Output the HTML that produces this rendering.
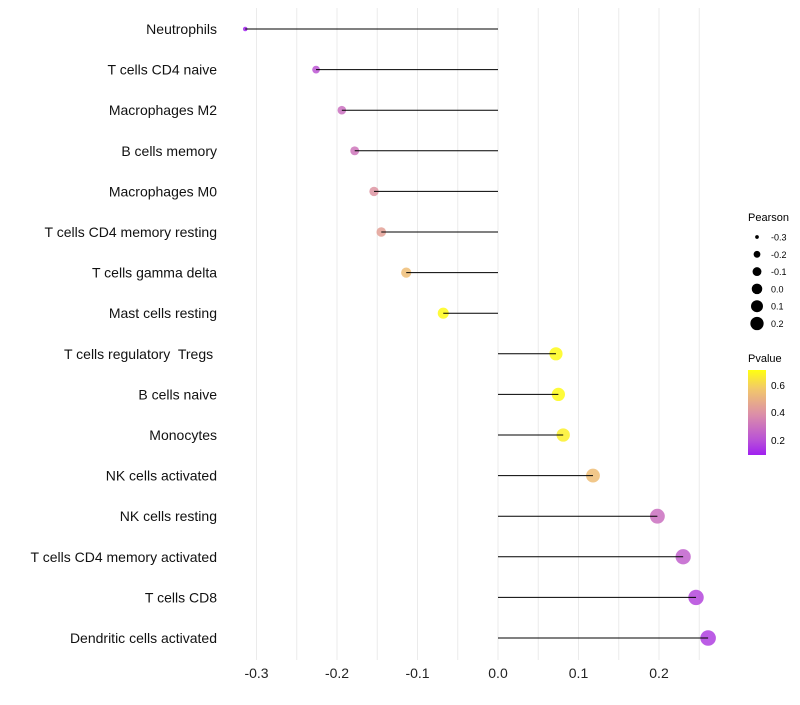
<!DOCTYPE html>
<html><head><meta charset="utf-8"><style>
body{margin:0;background:#fff;font-family:"Liberation Sans",sans-serif}
</style></head><body>
<svg id="chart" width="800" height="700" xmlns="http://www.w3.org/2000/svg">
<defs><linearGradient id="pg" x1="0" y1="1" x2="0" y2="0">
<stop offset="0" stop-color="#A020F0"/><stop offset="0.17" stop-color="#B850D8"/><stop offset="0.48" stop-color="#DC8FA8"/><stop offset="0.78" stop-color="#F2C86A"/><stop offset="1" stop-color="#FFFF10"/></linearGradient></defs>
<g id="grid"></g><g id="marks"></g><g id="labels"></g>
<g font-size="10" fill="#000">
<text x="748" y="221" font-size="11">Pearson</text>
<g id="sizeleg"></g>
<text x="748" y="362" font-size="11">Pvalue</text>
<rect x="748" y="370" width="18" height="85" fill="url(#pg)"/>
<text x="771" y="389">0.6</text><text x="771" y="416">0.4</text><text x="771" y="444">0.2</text>
</g>
</svg>
<script>
const categories=["Neutrophils","T cells CD4 naive","Macrophages M2","B cells memory","Macrophages M0","T cells CD4 memory resting","T cells gamma delta","Mast cells resting","T cells regulatory  Tregs ","B cells naive","Monocytes","NK cells activated","NK cells resting","T cells CD4 memory activated","T cells CD8","Dendritic cells activated"];
const pearson=[-0.314,-0.226,-0.194,-0.178,-0.154,-0.145,-0.114,-0.068,0.072,0.075,0.081,0.118,0.198,0.230,0.246,0.261];
const pvalue=[0.1,0.22,0.3,0.32,0.42,0.46,0.56,0.7,0.7,0.7,0.68,0.56,0.3,0.25,0.18,0.16];
const xticks=[-0.3,-0.2,-0.1,0.0,0.1,0.2];
const sizeLegend=[-0.3,-0.2,-0.1,0.0,0.1,0.2];
const NS="http://www.w3.org/2000/svg";
const X=v=>498+v*805;
const Y=i=>29+i*40.6;
const R0=v=>Math.sqrt(Math.max(1,2.25+(v+0.314)/0.575*46.75));
const R=v=>R0(v)+0.8;
const stops=[[0.09,[160,32,240]],[0.2,[184,80,216]],[0.4,[220,143,168]],[0.6,[242,200,106]],[0.71,[255,255,16]]];
function col(p){if(p<=stops[0][0])return 'rgb('+stops[0][1]+')';for(let i=1;i<stops.length;i++){if(p<=stops[i][0]){const a=stops[i-1],b=stops[i],t=(p-a[0])/(b[0]-a[0]);return 'rgb('+a[1].map((c,k)=>Math.round(c+(b[1][k]-c)*t)).join(',')+')';}}return 'rgb(255,255,16)';}
function mk(t,a,p){const e=document.createElementNS(NS,t);for(const k in a)e.setAttribute(k,a[k]);p.appendChild(e);return e;}
const grid=document.getElementById('grid'),marks=document.getElementById('marks'),labels=document.getElementById('labels');
for(let v=-0.3;v<=0.251;v+=0.05){const g=mk('line',{x1:X(v),x2:X(v),y1:8,y2:660,stroke:'#ebebeb','stroke-width':1},grid);

}
xticks.forEach(v=>{const t=mk('text',{x:X(v),y:678,'text-anchor':'middle','font-size':14,fill:'#222'},labels);t.textContent=v.toFixed(1);

});
categories.forEach((c,i)=>{const t=mk('text',{x:217,y:Y(i)+5,'text-anchor':'end','font-size':14,fill:'#111'},labels);t.textContent=c;
t.setAttribute('xml:space','preserve');t.style.whiteSpace='pre';


const pt=mk('circle',{cx:X(pearson[i]),cy:Y(i),r:R(pearson[i]),fill:col(pvalue[i]),'fill-opacity':0.85},marks);


const ln=mk('line',{x1:X(0),x2:X(pearson[i]),y1:Y(i),y2:Y(i),stroke:'#000','stroke-width':1},marks);

});
const sl=document.getElementById('sizeleg');
sizeLegend.forEach((v,i)=>{const y=237+i*17.3;const c=mk('circle',{cx:757,cy:y,r:R0(v),fill:'#000'},sl);


const t=mk('text',{x:771,y:y+3.5,'font-size':9},sl);t.textContent=v.toFixed(1);

});
</script>
</body></html>
